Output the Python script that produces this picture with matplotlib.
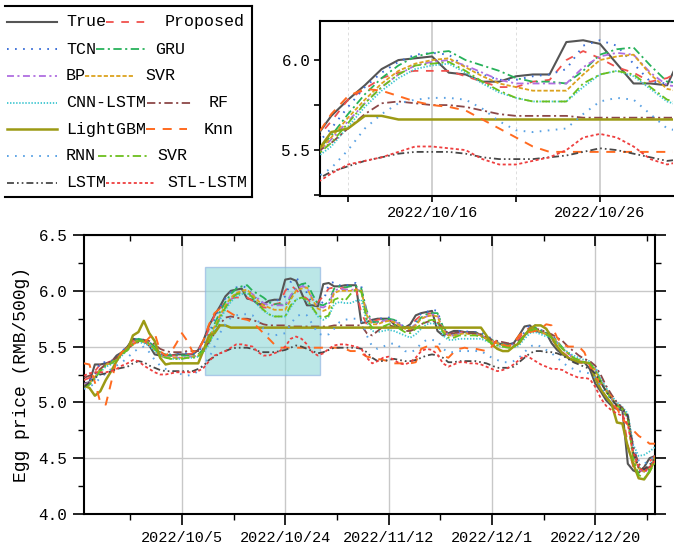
import matplotlib
matplotlib.use("Agg")
import matplotlib.pyplot as plt
import matplotlib.dates as mdates
from matplotlib.lines import Line2D
from matplotlib.patches import Rectangle
import numpy as np
import pandas as pd

plt.rcParams['font.family'] = ['Liberation Mono', 'DejaVu Sans']
plt.rcParams['lines.scale_dashes'] = False

start_date = "2022-09-17"
n_days = 106

true_vals = [
    5.17, 5.18, 5.34, 5.34, 5.35, 5.36, 5.42, 5.45, 5.50, 5.57,
    5.56, 5.55, 5.51, 5.43, 5.42, 5.42, 5.42, 5.43, 5.43, 5.43,
    5.43, 5.47, 5.56, 5.69, 5.78, 5.86, 5.95, 6.00, 6.01, 6.02,
    5.93, 5.92, 5.88, 5.88, 5.91, 5.92, 5.92, 6.10, 6.11, 6.09,
    5.98, 5.87, 5.87, 5.86, 6.06, 6.07, 6.04, 6.04, 6.05, 6.05,
    6.05, 5.71, 5.72, 5.74, 5.75, 5.75, 5.75, 5.70, 5.67, 5.67,
    5.70, 5.78, 5.80, 5.81, 5.82, 5.64, 5.60, 5.62, 5.64, 5.64,
    5.63, 5.63, 5.63, 5.60, 5.57, 5.55, 5.53, 5.52, 5.52, 5.53,
    5.60, 5.68, 5.69, 5.64, 5.63, 5.62, 5.53, 5.47, 5.43, 5.40,
    5.37, 5.36, 5.36, 5.30, 5.17, 5.10, 5.02, 4.97, 4.94, 4.93,
    4.45, 4.39, 4.37, 4.42, 4.50, 4.52]

proposed = [
    5.20, 5.22, 5.28, 5.34, 5.35, 5.37, 5.40, 5.45, 5.50, 5.55,
    5.56, 5.55, 5.52, 5.46, 5.43, 5.42, 5.42, 5.42, 5.43, 5.43,
    5.44, 5.47, 5.55, 5.66, 5.78, 5.84, 5.90, 5.93, 5.94, 5.94,
    5.94, 5.91, 5.88, 5.85, 5.85, 5.88, 5.89, 6.00, 6.05, 6.01,
    5.96, 5.93, 5.88, 5.90, 5.95, 6.02, 6.03, 6.02, 6.03, 6.03,
    6.02, 5.80, 5.70, 5.72, 5.74, 5.75, 5.74, 5.72, 5.68, 5.67,
    5.68, 5.74, 5.78, 5.79, 5.80, 5.72, 5.62, 5.61, 5.62, 5.63,
    5.63, 5.62, 5.62, 5.60, 5.58, 5.55, 5.53, 5.52, 5.51, 5.52,
    5.57, 5.64, 5.67, 5.66, 5.63, 5.62, 5.57, 5.50, 5.45, 5.41,
    5.38, 5.36, 5.35, 5.33, 5.22, 5.12, 5.05, 4.99, 4.94, 4.92,
    4.62, 4.42, 4.38, 4.40, 4.47, 4.52]

tcn = [
    5.15, 5.20, 5.25, 5.36, 5.36, 5.37, 5.40, 5.46, 5.50, 5.55,
    5.58, 5.56, 5.54, 5.48, 5.44, 5.43, 5.43, 5.44, 5.44, 5.44,
    5.44, 5.45, 5.52, 5.62, 5.74, 5.85, 5.93, 5.99, 6.03, 6.04,
    6.03, 5.96, 5.92, 5.89, 5.89, 5.91, 5.92, 5.95, 6.08, 6.11,
    6.08, 5.98, 5.88, 5.87, 5.90, 6.06, 6.08, 6.05, 6.04, 6.06,
    6.07, 6.04, 5.74, 5.72, 5.74, 5.76, 5.76, 5.75, 5.70, 5.68,
    5.68, 5.72, 5.80, 5.81, 5.83, 5.82, 5.66, 5.61, 5.62, 5.64,
    5.64, 5.63, 5.63, 5.63, 5.60, 5.57, 5.55, 5.53, 5.52, 5.53,
    5.55, 5.63, 5.70, 5.69, 5.65, 5.63, 5.62, 5.54, 5.48, 5.44,
    5.40, 5.38, 5.36, 5.36, 5.28, 5.18, 5.10, 5.03, 4.97, 4.94,
    4.90, 4.47, 4.40, 4.38, 4.43, 4.50]

gru = [
    5.14, 5.16, 5.22, 5.28, 5.34, 5.36, 5.40, 5.44, 5.48, 5.54,
    5.57, 5.56, 5.54, 5.50, 5.45, 5.43, 5.42, 5.42, 5.42, 5.42,
    5.42, 5.43, 5.48, 5.58, 5.70, 5.81, 5.90, 5.97, 6.02, 6.04,
    6.05, 6.00, 5.97, 5.94, 5.90, 5.88, 5.88, 5.87, 5.94, 6.03,
    6.06, 6.07, 5.97, 5.88, 5.87, 5.90, 6.02, 6.04, 6.03, 6.04,
    6.04, 6.02, 5.82, 5.72, 5.72, 5.74, 5.75, 5.74, 5.71, 5.67,
    5.66, 5.70, 5.76, 5.79, 5.80, 5.80, 5.68, 5.61, 5.60, 5.62,
    5.63, 5.62, 5.62, 5.61, 5.59, 5.56, 5.54, 5.52, 5.51, 5.51,
    5.54, 5.60, 5.66, 5.67, 5.64, 5.62, 5.60, 5.55, 5.49, 5.44,
    5.40, 5.37, 5.36, 5.35, 5.30, 5.20, 5.12, 5.04, 4.98, 4.94,
    4.88, 4.55, 4.42, 4.38, 4.40, 4.47]

bp = [
    5.16, 5.18, 5.24, 5.30, 5.34, 5.35, 5.39, 5.44, 5.48, 5.53,
    5.55, 5.54, 5.52, 5.48, 5.42, 5.40, 5.40, 5.40, 5.40, 5.41,
    5.41, 5.42, 5.46, 5.56, 5.66, 5.76, 5.85, 5.92, 5.97, 5.99,
    6.00, 5.97, 5.93, 5.89, 5.87, 5.87, 5.87, 5.87, 5.96, 6.02,
    6.04, 6.03, 5.93, 5.86, 5.85, 5.88, 6.00, 6.02, 6.01, 6.01,
    6.01, 6.00, 5.80, 5.71, 5.71, 5.73, 5.74, 5.73, 5.70, 5.67,
    5.66, 5.70, 5.75, 5.77, 5.79, 5.78, 5.66, 5.60, 5.60, 5.62,
    5.62, 5.62, 5.61, 5.60, 5.58, 5.55, 5.53, 5.51, 5.50, 5.51,
    5.54, 5.60, 5.65, 5.66, 5.63, 5.61, 5.59, 5.54, 5.48, 5.44,
    5.40, 5.37, 5.36, 5.35, 5.30, 5.20, 5.11, 5.04, 4.98, 4.94,
    4.86, 4.52, 4.41, 4.37, 4.41, 4.48]

svr = [
    5.15, 5.17, 5.23, 5.30, 5.34, 5.35, 5.39, 5.44, 5.49, 5.54,
    5.55, 5.54, 5.52, 5.47, 5.42, 5.40, 5.40, 5.40, 5.40, 5.40,
    5.41, 5.42, 5.47, 5.57, 5.68, 5.78, 5.87, 5.94, 5.98, 6.00,
    6.01, 5.96, 5.91, 5.87, 5.85, 5.83, 5.83, 5.83, 5.92, 6.00,
    6.02, 6.03, 5.92, 5.84, 5.82, 5.84, 5.98, 6.00, 6.00, 6.00,
    6.01, 6.00, 5.78, 5.70, 5.70, 5.72, 5.73, 5.72, 5.69, 5.66,
    5.65, 5.69, 5.75, 5.77, 5.78, 5.77, 5.65, 5.60, 5.60, 5.61,
    5.62, 5.61, 5.61, 5.60, 5.57, 5.55, 5.53, 5.51, 5.50, 5.50,
    5.54, 5.60, 5.65, 5.66, 5.63, 5.61, 5.59, 5.54, 5.48, 5.44,
    5.40, 5.38, 5.36, 5.35, 5.29, 5.19, 5.11, 5.04, 4.98, 4.95,
    4.85, 4.50, 4.41, 4.38, 4.42, 4.48]

cnn_lstm = [
    5.15, 5.17, 5.21, 5.27, 5.32, 5.34, 5.37, 5.42, 5.47, 5.52,
    5.54, 5.53, 5.51, 5.46, 5.42, 5.40, 5.39, 5.39, 5.39, 5.40,
    5.40, 5.41, 5.45, 5.52, 5.63, 5.74, 5.83, 5.90, 5.95, 5.97,
    5.98, 5.93, 5.87, 5.82, 5.79, 5.77, 5.77, 5.77, 5.85, 5.92,
    5.94, 5.91, 5.84, 5.77, 5.74, 5.77, 5.88, 5.90, 5.89, 5.89,
    5.91, 5.92, 5.72, 5.64, 5.63, 5.64, 5.65, 5.64, 5.62, 5.60,
    5.58, 5.61, 5.66, 5.70, 5.71, 5.70, 5.60, 5.56, 5.56, 5.57,
    5.57, 5.57, 5.57, 5.57, 5.55, 5.53, 5.51, 5.50, 5.49, 5.49,
    5.51, 5.57, 5.62, 5.63, 5.61, 5.59, 5.58, 5.53, 5.48, 5.45,
    5.42, 5.40, 5.38, 5.37, 5.32, 5.22, 5.13, 5.06, 5.00, 4.96,
    4.90, 4.62, 4.52, 4.53, 4.56, 4.60]

rf = [
    5.22, 5.24, 5.26, 5.30, 5.34, 5.37, 5.40, 5.44, 5.48, 5.52,
    5.54, 5.56, 5.55, 5.52, 5.48, 5.46, 5.45, 5.45, 5.45, 5.46,
    5.46, 5.46, 5.48, 5.54, 5.62, 5.70, 5.76, 5.77, 5.76, 5.75,
    5.75, 5.74, 5.72, 5.70, 5.69, 5.69, 5.69, 5.69, 5.68, 5.68,
    5.68, 5.68, 5.68, 5.68, 5.68, 5.68, 5.69, 5.69, 5.69, 5.69,
    5.69, 5.69, 5.62, 5.60, 5.64, 5.68, 5.69, 5.68, 5.66, 5.64,
    5.64, 5.66, 5.70, 5.72, 5.73, 5.72, 5.66, 5.62, 5.62, 5.63,
    5.63, 5.62, 5.62, 5.61, 5.59, 5.56, 5.55, 5.54, 5.53, 5.53,
    5.55, 5.60, 5.64, 5.66, 5.65, 5.63, 5.61, 5.58, 5.55, 5.50,
    5.46, 5.42, 5.39, 5.37, 5.33, 5.25, 5.15, 5.07, 5.00, 4.95,
    4.88, 4.60, 4.45, 4.40, 4.42, 4.47]

lightgbm = [
    5.15, 5.13, 5.06, 5.10, 5.20, 5.28, 5.37, 5.45, 5.47, 5.60,
    5.63, 5.73, 5.62, 5.55, 5.40, 5.34, 5.35, 5.35, 5.35, 5.35,
    5.35, 5.35, 5.47, 5.60, 5.62, 5.69, 5.69, 5.67, 5.67, 5.67,
    5.67, 5.67, 5.67, 5.67, 5.67, 5.67, 5.67, 5.67, 5.67, 5.67,
    5.67, 5.67, 5.67, 5.67, 5.67, 5.67, 5.67, 5.67, 5.67, 5.67,
    5.67, 5.67, 5.67, 5.67, 5.67, 5.67, 5.67, 5.67, 5.67, 5.67,
    5.67, 5.67, 5.67, 5.67, 5.67, 5.67, 5.67, 5.67, 5.67, 5.67,
    5.67, 5.67, 5.67, 5.67, 5.60, 5.52, 5.48, 5.46, 5.46, 5.50,
    5.53, 5.60, 5.66, 5.69, 5.69, 5.66, 5.58, 5.50, 5.44, 5.40,
    5.38, 5.36, 5.36, 5.35, 5.22, 5.12, 5.05, 4.99, 4.82, 4.81,
    4.60, 4.45, 4.32, 4.31, 4.38, 4.50]

knn = [
    5.35, 5.34, 5.18, 5.00, 4.98, 5.18, 5.38, 5.45, 5.48, 5.52,
    5.55, 5.53, 5.58, 5.62, 5.46, 5.42, 5.45, 5.53, 5.62, 5.55,
    5.45, 5.47, 5.56, 5.70, 5.80, 5.84, 5.83, 5.80, 5.77, 5.75,
    5.74, 5.72, 5.67, 5.62, 5.57, 5.52, 5.49, 5.49, 5.49, 5.49,
    5.49, 5.49, 5.49, 5.49, 5.49, 5.49, 5.49, 5.49, 5.48, 5.46,
    5.46, 5.44, 5.41, 5.40, 5.39, 5.38, 5.37, 5.35, 5.35, 5.35,
    5.35, 5.36, 5.48, 5.50, 5.50, 5.50, 5.42, 5.40, 5.45, 5.48,
    5.49, 5.48, 5.48, 5.47, 5.46, 5.50, 5.56, 5.52, 5.50, 5.53,
    5.60, 5.64, 5.63, 5.64, 5.66, 5.70, 5.69, 5.58, 5.52, 5.50,
    5.50, 5.50, 5.45, 5.33, 5.24, 5.17, 5.10, 5.05, 4.95, 4.85,
    4.80, 4.75, 4.70, 4.67, 4.63, 4.63]

rnn = [
    5.12, 5.14, 5.17, 5.22, 5.26, 5.30, 5.33, 5.36, 5.40, 5.45,
    5.48, 5.50, 5.45, 5.38, 5.33, 5.30, 5.28, 5.27, 5.25, 5.24,
    5.25, 5.28, 5.34, 5.40, 5.50, 5.62, 5.70, 5.76, 5.78, 5.79,
    5.79, 5.78, 5.73, 5.66, 5.61, 5.60, 5.61, 5.62, 5.70, 5.77,
    5.79, 5.78, 5.70, 5.62, 5.60, 5.61, 5.66, 5.72, 5.74, 5.75,
    5.75, 5.73, 5.60, 5.50, 5.48, 5.50, 5.52, 5.53, 5.50, 5.46,
    5.45, 5.47, 5.53, 5.56, 5.56, 5.55, 5.48, 5.45, 5.45, 5.46,
    5.46, 5.46, 5.46, 5.46, 5.43, 5.40, 5.38, 5.36, 5.36, 5.37,
    5.40, 5.45, 5.50, 5.52, 5.50, 5.47, 5.44, 5.40, 5.36, 5.32,
    5.30, 5.28, 5.27, 5.26, 5.22, 5.15, 5.08, 5.02, 4.97, 4.93,
    4.85, 4.60, 4.48, 4.45, 4.48, 4.52]

svr2 = [
    5.14, 5.16, 5.22, 5.28, 5.33, 5.35, 5.38, 5.43, 5.47, 5.52,
    5.55, 5.55, 5.53, 5.48, 5.42, 5.40, 5.39, 5.39, 5.39, 5.40,
    5.40, 5.41, 5.46, 5.54, 5.65, 5.76, 5.85, 5.92, 5.97, 5.98,
    5.99, 5.94, 5.88, 5.83, 5.79, 5.77, 5.77, 5.77, 5.87, 5.92,
    5.94, 5.92, 5.85, 5.78, 5.76, 5.78, 5.92, 5.94, 5.91, 5.97,
    6.01, 5.99, 5.74, 5.67, 5.66, 5.68, 5.70, 5.70, 5.66, 5.63,
    5.62, 5.66, 5.70, 5.73, 5.74, 5.73, 5.63, 5.58, 5.58, 5.60,
    5.60, 5.60, 5.60, 5.59, 5.56, 5.53, 5.51, 5.50, 5.49, 5.50,
    5.54, 5.60, 5.64, 5.66, 5.63, 5.61, 5.58, 5.53, 5.48, 5.44,
    5.40, 5.38, 5.36, 5.35, 5.29, 5.19, 5.10, 5.03, 4.97, 4.94,
    4.86, 4.50, 4.35, 4.32, 4.38, 4.46]

lstm = [
    5.14, 5.18, 5.22, 5.25, 5.26, 5.28, 5.30, 5.31, 5.32, 5.35,
    5.37, 5.36, 5.33, 5.31, 5.29, 5.28, 5.28, 5.28, 5.28, 5.28,
    5.28, 5.30, 5.33, 5.38, 5.41, 5.44, 5.46, 5.48, 5.49, 5.49,
    5.49, 5.48, 5.46, 5.45, 5.45, 5.45, 5.46, 5.47, 5.49, 5.51,
    5.50, 5.48, 5.46, 5.44, 5.45, 5.47, 5.49, 5.49, 5.49, 5.49,
    5.49, 5.48, 5.45, 5.40, 5.37, 5.37, 5.38, 5.39, 5.38, 5.37,
    5.37, 5.38, 5.40, 5.42, 5.43, 5.42, 5.40, 5.36, 5.36, 5.37,
    5.37, 5.37, 5.37, 5.36, 5.35, 5.33, 5.31, 5.31, 5.31, 5.32,
    5.36, 5.40, 5.44, 5.46, 5.46, 5.45, 5.45, 5.44, 5.42, 5.39,
    5.36, 5.34, 5.32, 5.30, 5.26, 5.18, 5.10, 5.03, 4.97, 4.94,
    4.88, 4.55, 4.42, 4.40, 4.44, 4.50]

stl_lstm = [
    5.24, 5.26, 5.27, 5.27, 5.27, 5.28, 5.30, 5.33, 5.35, 5.38,
    5.37, 5.33, 5.30, 5.27, 5.25, 5.25, 5.26, 5.27, 5.27, 5.27,
    5.27, 5.28, 5.31, 5.37, 5.42, 5.44, 5.46, 5.49, 5.52, 5.52,
    5.51, 5.50, 5.45, 5.42, 5.42, 5.44, 5.46, 5.50, 5.57, 5.59,
    5.57, 5.52, 5.45, 5.42, 5.44, 5.48, 5.51, 5.52, 5.52, 5.51,
    5.50, 5.48, 5.40, 5.35, 5.37, 5.40, 5.41, 5.38, 5.35, 5.34,
    5.36, 5.40, 5.46, 5.48, 5.47, 5.43, 5.35, 5.32, 5.34, 5.36,
    5.36, 5.35, 5.35, 5.34, 5.32, 5.30, 5.28, 5.29, 5.31, 5.34,
    5.38, 5.42, 5.40, 5.37, 5.34, 5.32, 5.30, 5.30, 5.29, 5.26,
    5.24, 5.22, 5.22, 5.21, 5.14, 5.04, 4.97, 4.93, 4.90, 4.88,
    4.80, 4.55, 4.42, 4.38, 4.42, 4.48]

labels = ["True", "Proposed", "TCN", "GRU", "BP", "SVR", "CNN-LSTM", "RF",
          "LightGBM", "Knn", "RNN", "SVR", "LSTM", "STL-LSTM"]
series = [true_vals, proposed, tcn, gru, bp, svr, cnn_lstm, rf,
          lightgbm, knn, rnn, svr2, lstm, stl_lstm]

main_ticks = ["2022-10-05", "2022-10-24", "2022-11-12", "2022-12-01", "2022-12-20"]
inset_ticks = ["2022-10-16", "2022-10-26"]
y_ticks = [4.0, 4.5, 5.0, 5.5, 6.0, 6.5]
inset_y_ticks = [5.5, 6.0]

# styles (colour, linestyle, linewidth)
styles = [
    ("#555555", "-", 1.5),
    ("#f0504c", (0, (5.5, 5.5)), 1.3),
    ("#3b6fd8", (0, (1.2, 4.6)), 1.4),
    ("#27b25a", (0, (6, 2.5, 1.5, 2.5)), 1.3),
    ("#b06ee0", (0, (5, 2.5, 1.5, 2.5)), 1.3),
    ("#dca21e", (0, (3, 1.5)), 1.3),
    ("#3ec6d0", (0, (1, 1.2)), 1.3),
    ("#8c4848", (0, (6, 2.5, 1.5, 2.5)), 1.3),
    ("#9c9a14", "-", 1.8),
    ("#ff6a1f", (0, (6.5, 5.5)), 1.4),
    ("#5aa2e4", (0, (1.2, 4.6)), 1.4),
    ("#6cbf1e", (0, (6, 2.5, 1.5, 2.5)), 1.3),
    ("#484848", (0, (5, 2.2, 1.2, 2.2, 1.2, 2.2)), 1.3),
    ("#ee3e3e", (0, (2.2, 1.8)), 1.3),
]

dates = pd.date_range(start_date, periods=n_days, freq="D")
x = mdates.date2num(dates.to_pydatetime())

W, H = 674, 548
fig = plt.figure(figsize=(W / 100, H / 100), dpi=100)

def fx(px):
    return px / W

def fy(py):
    return 1 - py / H

def fmt_date(t):
    ts = pd.Timestamp(t)
    return f"{ts.year}/{ts.month}/{ts.day}"

# ---------- main axes ----------
ax = fig.add_axes([fx(84), fy(514), fx(655) - fx(84), fy(235) - fy(514)])
for s, (c, ls, lw) in zip(series, styles):
    ax.plot(x, s, color=c, linestyle=ls, linewidth=lw, zorder=3)

d0 = mdates.date2num(pd.Timestamp(start_date).to_pydatetime())
ax.set_xlim(x[0], x[-1])
ax.set_ylim(4.0, 6.5)

rx0, rx1 = d0 + 22.25, d0 + 43.35
rect = Rectangle((rx0, 5.245), rx1 - rx0, 6.215 - 5.245, facecolor="#8fd8d8",
                 edgecolor="#88aee0", alpha=0.6, linewidth=1.0, zorder=2)
ax.add_patch(rect)

mt = mdates.date2num([pd.Timestamp(t).to_pydatetime() for t in main_ticks])
ax.set_xticks(mt)
ax.set_xticklabels([fmt_date(t) for t in main_ticks])
minors = [mt[0] - 9.5] + [m + 9.5 for m in mt]
ax.set_xticks(minors, minor=True)
ax.set_yticks(y_ticks)
ax.set_yticklabels([f"{v:.1f}" for v in y_ticks])
ax.set_yticks(np.arange(4.25, 6.5, 0.5), minor=True)
ax.grid(True, which="major", color="#c8c8c8", linewidth=1.0, zorder=0)
ax.set_axisbelow(True)
ax.tick_params(axis="both", which="major", direction="out", length=8, width=1.2,
               labelsize=11, pad=4)
ax.tick_params(axis="both", which="minor", direction="out", length=4, width=1.0)
ax.tick_params(axis="y", labelsize=11.5)
ax.tick_params(top=True, right=True, which="both")
for tl in ax.xaxis.get_ticklines(minor=False)[1::2] + ax.xaxis.get_ticklines(minor=True)[1::2]:
    tl.set_marker(3)
for tl in ax.yaxis.get_ticklines(minor=False)[1::2] + ax.yaxis.get_ticklines(minor=True)[1::2]:
    tl.set_marker(1)
for sp in ax.spines.values():
    sp.set_linewidth(1.5)
ax.set_ylabel("Egg price (RMB/500g)", fontsize=13, labelpad=6)

# ---------- inset axes ----------
ax2 = fig.add_axes([fx(320), fy(196), fx(673) - fx(320), fy(21) - fy(196)])
for s, (c, ls, lw) in zip(series, styles):
    ax2.plot(x, s, color=c, linestyle=ls, linewidth=lw, zorder=3)
ax2.set_xlim(rx0 + 0.08, rx1)
ax2.set_ylim(5.245, 6.217)
it = mdates.date2num([pd.Timestamp(t).to_pydatetime() for t in inset_ticks])
ax2.set_xticks(it)
ax2.set_xticklabels([fmt_date(t) for t in inset_ticks])
ax2.set_xticks([it[0] - 5, it[0] + 5], minor=True)
ax2.set_yticks(inset_y_ticks)
ax2.set_yticklabels([f"{v:.1f}" for v in inset_y_ticks])
ax2.set_yticks([5.25, 5.75], minor=True)
ax2.grid(True, axis="x", which="major", color="#c8c8c8", linewidth=1.2, zorder=0)
ax2.grid(True, axis="x", which="minor", color="#dddddd", linewidth=0.7,
         linestyle=(0, (2, 2)), zorder=0)
ax2.set_axisbelow(True)
ax2.tick_params(axis="both", which="both", direction="out", length=4, width=1.2,
                labelsize=11, pad=3)
ax2.tick_params(axis="y", labelsize=11.5)
for sp in ax2.spines.values():
    sp.set_linewidth(1.5)
ax2.spines["right"].set_visible(False)

# ---------- legend (manual, figure coordinates) ----------
row_y = [21.7, 49, 76, 102.7, 129.3, 156, 182.7]
col1_idx = [0, 2, 4, 6, 8, 10, 12]
col2_idx = [1, 3, 5, 7, 9, 11, 13]
col2_handle = [(106, 148), (96, 146), (85, 135), (147, 193), (146, 187), (98, 148), (106, 155)]
col2_text = [165, 155, 145, 209, 204, 157, 167]
for r in range(7):
    yy = fy(row_y[r])
    i = col1_idx[r]
    c, ls, lw = styles[i]
    fig.add_artist(Line2D([fx(7), fx(57)], [yy, yy], color=c, linestyle=ls,
                          linewidth=lw, transform=fig.transFigure))
    fig.text(fx(66), yy, labels[i], fontsize=12, va="center", ha="left")
    j = col2_idx[r]
    c, ls, lw = styles[j]
    h0, h1 = col2_handle[r]
    fig.add_artist(Line2D([fx(h0), fx(h1)], [yy, yy], color=c, linestyle=ls,
                          linewidth=lw, transform=fig.transFigure))
    fig.text(fx(col2_text[r]), yy, labels[j], fontsize=12, va="center", ha="left")

frame_kw = dict(color="black", linewidth=1.5, transform=fig.transFigure)
fig.add_artist(Line2D([fx(5), fx(252)], [fy(6), fy(6)], **frame_kw))
fig.add_artist(Line2D([fx(5), fx(252)], [fy(197), fy(197)], **frame_kw))
fig.add_artist(Line2D([fx(252), fx(252)], [fy(6), fy(197)], **frame_kw))

fig.savefig("out.png", dpi=100)
